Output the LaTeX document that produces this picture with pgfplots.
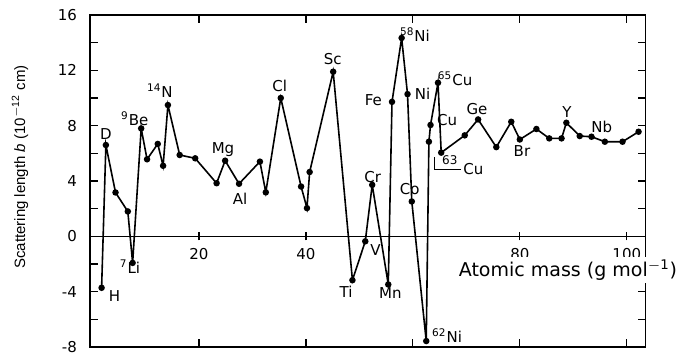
\documentclass[border=0pt]{standalone}
\usepackage{fontspec}
\setmainfont{DejaVu Sans}
\newfontfamily\libsans{Liberation Sans}
\usepackage{pgfplots}
\pgfplotsset{compat=1.18}
\begin{document}
\begin{tikzpicture}
\begin{axis}[scale only axis, width=277.75pt, height=166pt,
  xmin=-0.37, xmax=103.5, ymin=-8, ymax=16,
  xtick={20,40,60,80,100}, xticklabels={}, xtick pos=both,
  ytick={-8,-4,0,4,8,12,16}, minor ytick={-6,-2,2,6,10,14}, ytick pos=both,
  tick align=inside, major tick length=4pt, minor tick length=4pt,
  every tick/.style={black, line width=0.6pt},
  axis line style={line width=0.9pt},
  /pgf/number format/assume math mode=true,
  yticklabel style={font=\fontsize{7.5}{8}\selectfont, xshift=-3pt},
  clip=false]
\addplot[black, line width=0.8pt, mark=*, mark size=1.2pt] coordinates {
(1.8,-3.72) (2.6,6.6) (4.4,3.17) (6.7,1.8) (7.6,-1.92) (9.2,7.8) (10.3,5.57)
(12.3,6.68) (13.3,5.1) (14.2,9.49) (16.4,5.88) (19.3,5.64) (23.3,3.84)
(24.9,5.47) (27.5,3.8) (31.4,5.4) (32.5,3.18) (35.3,10.0) (39.1,3.6)
(40.2,2.04) (40.7,4.65) (45.1,11.9) (48.7,-3.17) (51.1,-0.36) (52.4,3.72)
(55.4,-3.48) (56.1,9.72) (57.9,14.34) (59.0,10.28) (59.8,2.52) (62.5,-7.57)
(63.0,6.84) (63.3,8.05) (64.7,11.1) (65.3,6.05) (69.7,7.3) (72.2,8.45)
(75.6,6.45) (78.4,8.28) (80.0,7.0) (83.1,7.76) (85.5,7.08) (87.8,7.08)
(88.7,8.21) (91.2,7.25) (93.4,7.2) (95.9,6.84) (99.2,6.84) (102.2,7.56)
};
\begin{scope}[every node/.style={font=\fontsize{7.5}{8}\selectfont, inner sep=0.5pt}]
\node at (axis cs:2.6,7.4) {D};
\node at (axis cs:4.2,-4.3) {H};
\node at (axis cs:7.1,-2.2) {\textsuperscript{7}Li};
\node at (axis cs:8.0,8.5) {\textsuperscript{9}Be};
\node at (axis cs:12.7,10.5) {\textsuperscript{14}N};
\node at (axis cs:24.5,6.3) {Mg};
\node at (axis cs:27.7,2.7) {Al};
\node at (axis cs:35.1,10.9) {Cl};
\node at (axis cs:45.0,12.8) {Sc};
\node at (axis cs:52.6,9.85) {Fe};
\node at (axis cs:60.4,14.6) {\textsuperscript{58}Ni};
\node at (axis cs:61.8,10.3) {Ni};
\node at (axis cs:67.9,11.4) {\textsuperscript{65}Cu};
\node at (axis cs:66.4,8.4) {Cu};
\node at (axis cs:66.9,5.5) {\fontsize{6}{6}\selectfont 63};
\draw[line width=0.5pt] (axis cs:64.1,5.7) -- (axis cs:64.1,4.85) -- (axis cs:69.0,4.85);
\node at (axis cs:71.3,4.85) {Cu};
\node at (axis cs:72.0,9.2) {Ge};
\node at (axis cs:80.4,6.2) {Br};
\node at (axis cs:88.8,9.0) {Y};
\node at (axis cs:95.3,7.9) {Nb};
\node at (axis cs:52.5,4.3) {Cr};
\node at (axis cs:53.0,-1.0) {V};
\node at (axis cs:47.5,-4.0) {Ti};
\node at (axis cs:55.8,-4.1) {Mn};
\node at (axis cs:59.4,3.45) {Co};
\node at (axis cs:66.4,-7.2) {\textsuperscript{62}Ni};
\end{scope}
\end{axis}
\begin{axis}[scale only axis, width=277.75pt, height=166pt,
  xmin=-0.37, xmax=103.5, ymin=-8, ymax=16,
  axis x line=middle, axis y line=none,
  xtick={20,40,80,100}, ytick=\empty,
  axis line style={-, line width=0.7pt},
  tick align=center, major tick length=4pt,
  every tick/.style={black, line width=0.6pt},
  /pgf/number format/assume math mode=true,
  xticklabel style={font=\fontsize{7.5}{8}\selectfont, yshift=-0.5pt}]
\end{axis}
\node[fill=white, inner sep=1pt, font=\fontsize{9.5}{10}\selectfont] at (239pt,38.5pt) {Atomic mass (g mol\textsuperscript{$-$1})};
\node[rotate=90, font=\libsans\fontsize{7.5}{8}\selectfont] at (-35pt,90pt) {Scattering length \textit{b} (10\textsuperscript{$-$12} cm)};
\pgfresetboundingbox
\path[use as bounding box] (-45pt,-3.5pt) rectangle (297pt,173.5pt);
\end{tikzpicture}
\end{document}
